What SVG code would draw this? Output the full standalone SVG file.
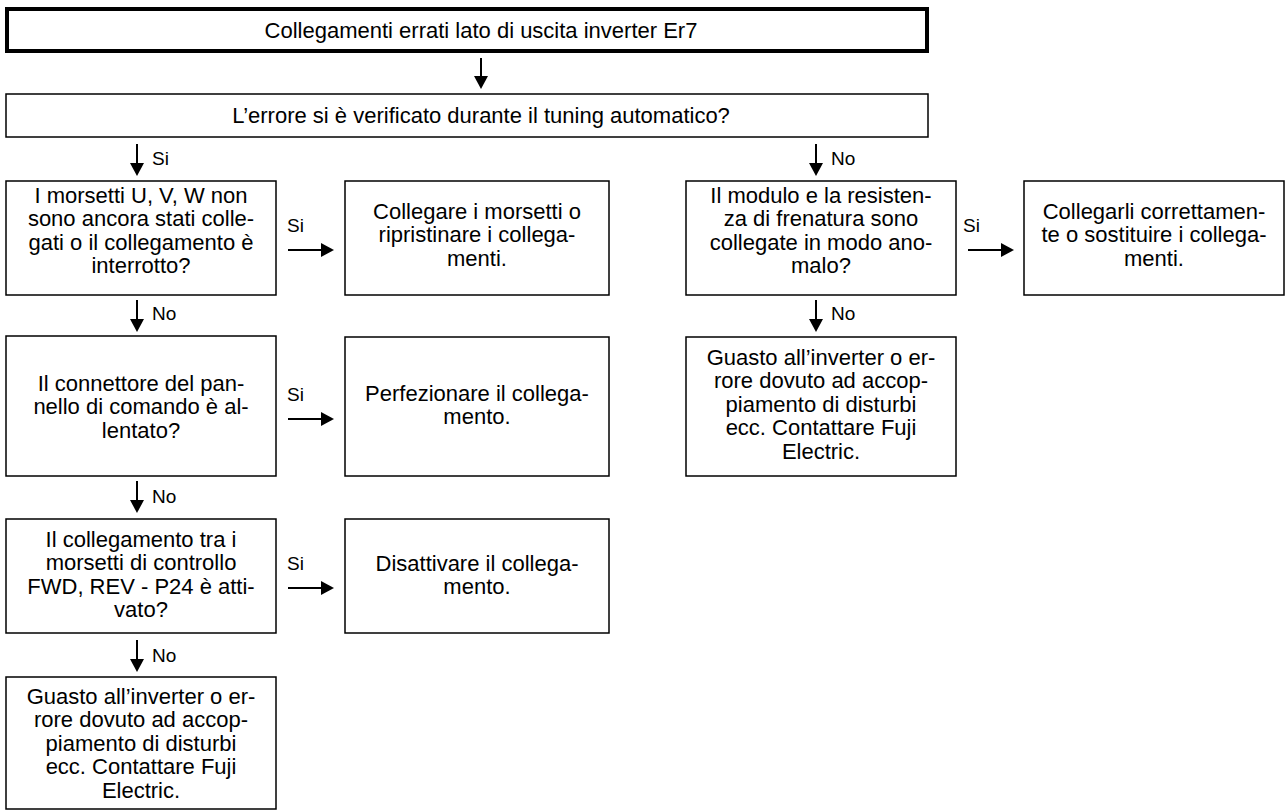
<svg xmlns="http://www.w3.org/2000/svg" width="1285" height="812" viewBox="0 0 1285 812">
<defs>
<style>
.box{fill:#fff;stroke:#000;stroke-width:1.5}
.title{fill:#fff;stroke:#000;stroke-width:4}
.t{font-family:"Liberation Sans",Arial,sans-serif;font-size:22px;fill:#000;text-anchor:middle}
.lbl{font-family:"Liberation Sans",Arial,sans-serif;font-size:19px;fill:#000}
.ln{stroke:#000;stroke-width:2;fill:none}
.hd{fill:#000}
</style>
</defs>
<rect width="1285" height="812" fill="#fff"/>
<g id="n-title"><rect class="title" x="7" y="9" width="920" height="42"/><text class="t" x="481" y="38">Collegamenti errati lato di uscita inverter Er7</text></g>
<g id="n-q0"><rect class="box" x="6" y="94" width="922" height="43"/><text class="t" x="481" y="123">L’errore si è verificato durante il tuning automatico?</text></g>
<g id="n-q1"><rect class="box" x="6" y="181" width="270" height="114"/><text class="t" x="141" y="203"><tspan x="141">I morsetti U, V, W non</tspan><tspan x="141" dy="23.4">sono ancora stati colle-</tspan><tspan x="141" dy="23.4">gati o il collegamento è</tspan><tspan x="141" dy="23.4">interrotto?</tspan></text></g>
<g id="n-a1"><rect class="box" x="345" y="181" width="264" height="114"/><text class="t" x="477" y="219"><tspan x="477">Collegare i morsetti o</tspan><tspan x="477" dy="23.4">ripristinare i collega-</tspan><tspan x="477" dy="23.4">menti.</tspan></text></g>
<g id="n-q2"><rect class="box" x="6" y="336" width="270" height="140"/><text class="t" x="141" y="391"><tspan x="141">Il connettore del pan-</tspan><tspan x="141" dy="23.4">nello di comando è al-</tspan><tspan x="141" dy="23.4">lentato?</tspan></text></g>
<g id="n-a2"><rect class="box" x="345" y="337" width="264" height="139"/><text class="t" x="477" y="401"><tspan x="477">Perfezionare il collega-</tspan><tspan x="477" dy="23.4">mento.</tspan></text></g>
<g id="n-q3"><rect class="box" x="6" y="519" width="270" height="114"/><text class="t" x="141" y="547"><tspan x="141">Il collegamento tra i</tspan><tspan x="141" dy="23.4">morsetti di controllo</tspan><tspan x="141" dy="23.4">FWD, REV - P24 è atti-</tspan><tspan x="141" dy="23.4">vato?</tspan></text></g>
<g id="n-a3"><rect class="box" x="345" y="519" width="264" height="114"/><text class="t" x="477" y="571"><tspan x="477">Disattivare il collega-</tspan><tspan x="477" dy="23.4">mento.</tspan></text></g>
<g id="n-r1"><rect class="box" x="6" y="677" width="270" height="132"/><text class="t" x="141" y="704"><tspan x="141">Guasto all’inverter o er-</tspan><tspan x="141" dy="23.4">rore dovuto ad accop-</tspan><tspan x="141" dy="23.4">piamento di disturbi</tspan><tspan x="141" dy="23.4">ecc. Contattare Fuji</tspan><tspan x="141" dy="23.4">Electric.</tspan></text></g>
<g id="n-q4"><rect class="box" x="686" y="181" width="270" height="114"/><text class="t" x="821" y="203"><tspan x="821">Il modulo e la resisten-</tspan><tspan x="821" dy="23.4">za di frenatura sono</tspan><tspan x="821" dy="23.4">collegate in modo ano-</tspan><tspan x="821" dy="23.4">malo?</tspan></text></g>
<g id="n-a4"><rect class="box" x="1024" y="181" width="260" height="114"/><text class="t" x="1154" y="219"><tspan x="1154">Collegarli correttamen-</tspan><tspan x="1154" dy="23.4">te o sostituire i collega-</tspan><tspan x="1154" dy="23.4">menti.</tspan></text></g>
<g id="n-r2"><rect class="box" x="686" y="337" width="270" height="139"/><text class="t" x="821" y="365"><tspan x="821">Guasto all’inverter o er-</tspan><tspan x="821" dy="23.4">rore dovuto ad accop-</tspan><tspan x="821" dy="23.4">piamento di disturbi</tspan><tspan x="821" dy="23.4">ecc. Contattare Fuji</tspan><tspan x="821" dy="23.4">Electric.</tspan></text></g>
<g id="connectors">
<line class="ln" x1="481" y1="58" x2="481" y2="77"/><polygon class="hd" points="474,76 488,76 481,89"/>
<line class="ln" x1="137" y1="144" x2="137" y2="164"/><polygon class="hd" points="130,163 144,163 137,176"/><text class="lbl" x="152" y="165">Si</text>
<line class="ln" x1="816" y1="144" x2="816" y2="164"/><polygon class="hd" points="809,163 823,163 816,176"/><text class="lbl" x="831" y="165">No</text>
<line class="ln" x1="137" y1="300" x2="137" y2="320"/><polygon class="hd" points="130,319 144,319 137,332"/><text class="lbl" x="152" y="320">No</text>
<line class="ln" x1="816" y1="300" x2="816" y2="320"/><polygon class="hd" points="809,319 823,319 816,332"/><text class="lbl" x="831" y="320">No</text>
<line class="ln" x1="137" y1="481" x2="137" y2="501"/><polygon class="hd" points="130,500 144,500 137,513"/><text class="lbl" x="152" y="503">No</text>
<line class="ln" x1="137" y1="640" x2="137" y2="660"/><polygon class="hd" points="130,659 144,659 137,672"/><text class="lbl" x="152" y="662">No</text>
<line class="ln" x1="288" y1="250" x2="322" y2="250"/><polygon class="hd" points="321,243 321,257 334,250"/><text class="lbl" x="287" y="232">Si</text>
<line class="ln" x1="288" y1="419" x2="322" y2="419"/><polygon class="hd" points="321,412 321,426 334,419"/><text class="lbl" x="287" y="401">Si</text>
<line class="ln" x1="288" y1="588" x2="322" y2="588"/><polygon class="hd" points="321,581 321,595 334,588"/><text class="lbl" x="287" y="570">Si</text>
<line class="ln" x1="968" y1="250" x2="1002" y2="250"/><polygon class="hd" points="1001,243 1001,257 1014,250"/><text class="lbl" x="963" y="232">Si</text>
</g>
</svg>
